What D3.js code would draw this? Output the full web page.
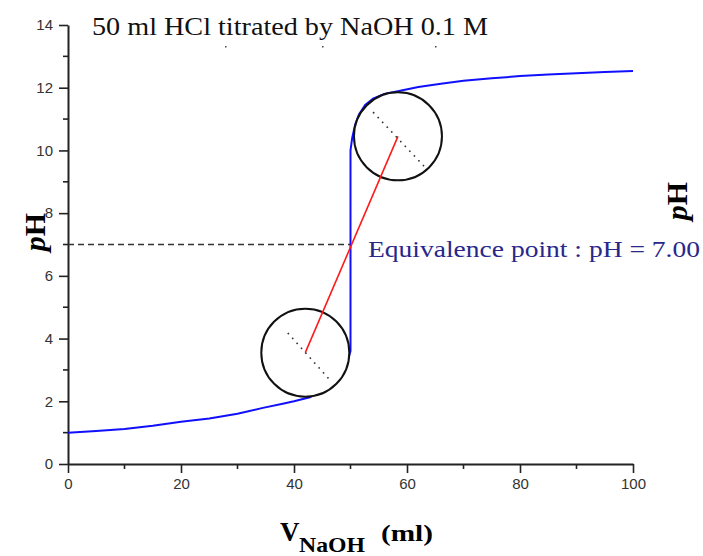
<!DOCTYPE html>
<html><head><meta charset="utf-8">
<script src="https://cdn.jsdelivr.net/npm/d3@7"></script>
<style>body{margin:0;background:#fff}svg{display:block}</style>
</head><body>
<svg id="c" width="703" height="556"></svg>
<script>
// Titration curve: volume of NaOH (ml) vs pH
const volume = [0,5,10,15,20,25,30,34.5,38,40,42.8,45,47,48.1,49,49.6,50,50,50.3,50.8,51.5,52.6,54,56,58.8,62,66,70,75,80,85,90,95,100];
const pH     = [1.0,1.05,1.12,1.22,1.35,1.45,1.6,1.79,1.92,2.0,2.13,2.35,2.6,2.85,3.1,3.35,3.6,10.0,10.4,10.8,11.15,11.45,11.65,11.8,11.9,12.02,12.13,12.22,12.3,12.37,12.42,12.46,12.5,12.53];
const xTicks = [0,20,40,60,80,100];
const yTicks = [0,2,4,6,8,10,12,14];
const xMinor = [10,30,50,70,90];
const yMinor = [1,3,5,7,9,11,13];
// annotation: equivalence point, zoom circles centres and their dotted diagonals
const equivalence = {v:50, pH:7.00};
const zoomCentres = [[42,3.55],[58.4,10.45]];
const zoomDiagonals = [[[38.9,4.18],[46.5,2.65]],[[54.0,11.22],[63.0,9.50]]];

const svg = d3.select("#c");
const x = d3.scaleLinear().domain([0,100]).range([68,633]);
const y = d3.scaleLinear().domain([0,14]).range([464,25]);

// axes
const ax = svg.append("g").attr("transform","translate(0,464)")
  .call(d3.axisBottom(x).tickValues(xTicks).tickSize(9).tickSizeOuter(0).tickPadding(5));
const ay = svg.append("g").attr("transform","translate(68,0)")
  .call(d3.axisLeft(y).tickValues(yTicks).tickSize(9).tickSizeOuter(0).tickPadding(6));
[ax,ay].forEach(g=>{
  g.attr("font-size",null);
  g.select(".domain").attr("stroke","#222").attr("stroke-width",2);
  g.selectAll(".tick line").attr("stroke","#222").attr("stroke-width",1.6);
  g.selectAll(".tick text").attr("fill","#333").attr("font-family","Liberation Sans, Arial, sans-serif").attr("font-size",15);
});
svg.append("g").selectAll("line").data(xMinor).join("line")
  .attr("x1",d=>x(d)).attr("x2",d=>x(d)).attr("y1",464).attr("y2",469)
  .attr("stroke","#222").attr("stroke-width",1.6);
svg.append("g").selectAll("line").data(yMinor).join("line")
  .attr("x1",63).attr("x2",68).attr("y1",d=>y(d)).attr("y2",d=>y(d))
  .attr("stroke","#222").attr("stroke-width",1.6);

// dashed line at pH 7
svg.append("line").attr("x1",x(0)).attr("x2",x(equivalence.v))
  .attr("y1",y(equivalence.pH)).attr("y2",y(equivalence.pH))
  .attr("stroke","#333").attr("stroke-width",1.6).attr("stroke-dasharray","6,4");

// curve
const pts = volume.map((v,i)=>[v,pH[i]]);
svg.append("path").datum(pts)
  .attr("d", d3.line().x(d=>x(d[0])).y(d=>y(d[1])))
  .attr("fill","none").attr("stroke","#1010ff").attr("stroke-width",2);

// zoom circles
svg.append("g").selectAll("circle").data(zoomCentres).join("circle")
  .attr("cx",d=>x(d[0])).attr("cy",d=>y(d[1])).attr("r",44)
  .attr("fill","#fff").attr("stroke","#111").attr("stroke-width",2);

// red line between centres
svg.append("line")
  .attr("x1",x(zoomCentres[0][0])).attr("y1",y(zoomCentres[0][1]))
  .attr("x2",x(zoomCentres[1][0])).attr("y2",y(zoomCentres[1][1]))
  .attr("stroke","#ff1a1a").attr("stroke-width",1.6);

// dotted diagonals
svg.append("g").selectAll("line").data(zoomDiagonals).join("line")
  .attr("x1",d=>x(d[0][0])).attr("y1",d=>y(d[0][1]))
  .attr("x2",d=>x(d[1][0])).attr("y2",d=>y(d[1][1]))
  .attr("stroke","#333").attr("stroke-width",1.6).attr("stroke-dasharray","1.6,5");

// texts
const serif = "Liberation Serif, Times New Roman, serif";
svg.append("text").attr("x",92).attr("y",35)
  .attr("textLength",396).attr("lengthAdjust","spacingAndGlyphs")
  .style("font-family",serif).style("font-size","26px").attr("fill","#111")
  .text("50 ml HCl titrated by NaOH 0.1 M");
[[225,46],[322,46],[435,46]].forEach(p=>svg.append("rect").attr("x",p[0]).attr("y",p[1]).attr("width",1.5).attr("height",1.5).attr("fill","#444"));

svg.append("text").attr("x",368).attr("y",257)
  .attr("textLength",332).attr("lengthAdjust","spacingAndGlyphs")
  .style("font-family",serif).style("font-size","23px").attr("fill","#28288a")
  .text("Equivalence point : pH = " + equivalence.pH.toFixed(2));

function pHLabel(cx,cy){
  const t = svg.append("text").attr("transform",`translate(${cx},${cy}) rotate(-90)`)
    .attr("text-anchor","middle").attr("dy","0.35em")
    .style("font-family",serif).style("font-size","30px").style("font-weight","bold").attr("fill","#000");
  t.append("tspan").style("font-style","italic").text("p");
  t.append("tspan").text("H");
}
pHLabel(34,232);
pHLabel(676,201);

const g = svg.append("g").style("font-family",serif).style("font-weight","bold").attr("fill","#000");
g.append("text").attr("x",280).attr("y",541).style("font-size","27px").text("V");
g.append("text").attr("x",299).attr("y",552).attr("textLength",66).attr("lengthAdjust","spacingAndGlyphs").style("font-size","22px").text("NaOH");
g.append("text").attr("x",381).attr("y",541).attr("textLength",52).attr("lengthAdjust","spacingAndGlyphs").style("font-size","24px").text("(ml)");
</script>
</body></html>
